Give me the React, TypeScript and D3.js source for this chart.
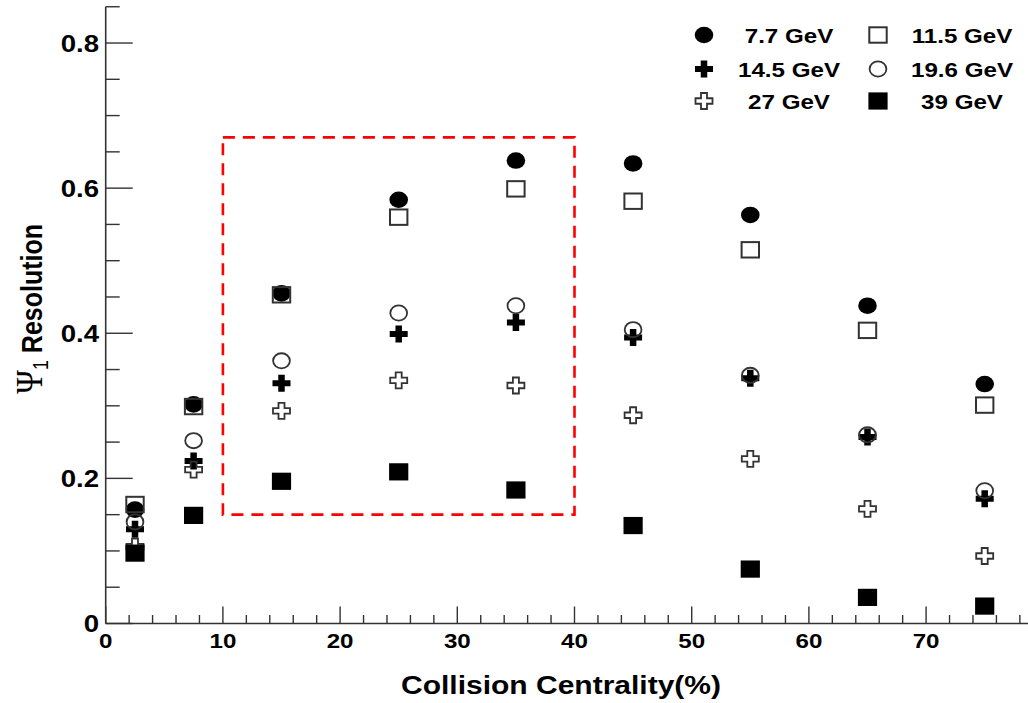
import React from 'react';
import * as d3 from 'd3';

const centrality = [2.5, 7.5, 15, 25, 35, 45, 55, 65, 75];
const res7p7 = [0.157, 0.302, 0.455, 0.584, 0.638, 0.634, 0.563, 0.438, 0.330];
const res11p5 = [0.164, 0.299, 0.453, 0.560, 0.599, 0.582, 0.515, 0.404, 0.301];
const res14p5 = [0.130, 0.224, 0.331, 0.399, 0.415, 0.394, 0.338, 0.257, 0.172];
const res19p6 = [0.140, 0.252, 0.362, 0.428, 0.438, 0.405, 0.342, 0.260, 0.183];
const res27 = [0.106, 0.212, 0.293, 0.335, 0.328, 0.287, 0.227, 0.158, 0.093];
const res39 = [0.097, 0.149, 0.196, 0.209, 0.184, 0.135, 0.075, 0.036, 0.024];
const seriesLabels = ['7.7 GeV', '11.5 GeV', '14.5 GeV', '19.6 GeV', '27 GeV', '39 GeV'];
const seriesMarkers = ['filledCircle', 'openSquare', 'filledCross', 'openCircle', 'openCross', 'filledSquare'];
const xTicks = [0, 10, 20, 30, 40, 50, 60, 70];
const yTicks = [0, 0.2, 0.4, 0.6, 0.8];
const boxX = [10, 40];
const boxY = [0.15, 0.67];

const W = 1028;
const H = 703;
const FONT = '"Liberation Sans", Arial, Helvetica, sans-serif';
const SX = 1.15;
const AX = '#333';

const x = d3.scaleLinear().domain([0, 80]).range([105.7, 105.7 + 80 * 11.72]);
const y = d3.scaleLinear().domain([0, 0.85]).range([623.5, 623.5 - 0.85 * 725.6]);

function plusPath(w: number, h: number, tw: number, th: number) {
  const a = w / 2, b = h / 2, c = tw / 2, d = th / 2;
  return `M${-c},${-b}L${c},${-b}L${c},${-d}L${a},${-d}L${a},${d}L${c},${d}L${c},${b}L${-c},${b}L${-c},${d}L${-a},${d}L${-a},${-d}L${-c},${-d}Z`;
}

function Marker({ type, cx, cy }: { type: string; cx: number; cy: number }) {
  const t = `translate(${cx},${cy})`;
  switch (type) {
    case 'filledCircle':
      return <ellipse transform={t} rx={9.3} ry={8.3} fill="#000" />;
    case 'openSquare':
      return <rect transform={t} x={-8.7} y={-7.7} width={17.4} height={15.4} fill="none" stroke={AX} strokeWidth={2} />;
    case 'filledCross':
      return <path transform={t} d={plusPath(18, 17, 6.5, 6)} fill="#000" />;
    case 'openCircle':
      return <ellipse transform={t} rx={8.4} ry={7.6} fill="none" stroke={AX} strokeWidth={1.8} />;
    case 'openCross':
      return <path transform={t} d={plusPath(17, 16, 6, 5.5)} fill="none" stroke={AX} strokeWidth={1.8} />;
    case 'filledSquare':
      return <rect transform={t} x={-9.6} y={-8.6} width={19.2} height={17.2} fill="#000" />;
    default:
      return null;
  }
}

export default function App() {
  const series = [res7p7, res11p5, res14p5, res19p6, res27, res39];
  const xMinor = d3.range(0, 81, 2);
  const yMinor = d3.range(0, 0.851, 0.05);
  const legendCols = [
    { mx: 704, tx: 789 },
    { mx: 878, tx: 962 },
  ];
  const legendRows = [35, 69, 101];

  return (
    <svg width={W} height={H} style={{ position: 'absolute', left: 0, top: 0, background: '#fff' }}>
      <rect x={0} y={0} width={W} height={H} fill="#fff" />
      {/* axes */}
      <line x1={x(0)} x2={W} y1={y(0)} y2={y(0)} stroke={AX} strokeWidth={1.6} />
      <line x1={x(0)} x2={x(0)} y1={y(0)} y2={y(0.85)} stroke={AX} strokeWidth={1.6} />
      {xMinor.map((v) => {
        const major = v % 10 === 0;
        return (
          <line key={'xt' + v} x1={x(v)} x2={x(v)} y1={y(0)} y2={y(0) - (major ? 17 : 8.5)} stroke={AX} strokeWidth={1.4} />
        );
      })}
      {yMinor.map((v, i) => {
        const major = i % 4 === 0;
        return (
          <line key={'yt' + i} x1={x(0)} x2={x(0) + (major ? 27 : 14)} y1={y(v)} y2={y(v)} stroke={AX} strokeWidth={1.4} />
        );
      })}
      {xTicks.map((v) => (
        <text key={'xl' + v} transform={`translate(${x(v)},648) scale(${SX},1)`} textAnchor="middle"
          fontFamily={FONT} fontWeight="bold" fontSize={21} fill="#000">{v}</text>
      ))}
      {yTicks.map((v) => (
        <text key={'yl' + v} transform={`translate(99,${y(v) + 8.5}) scale(${SX},1)`} textAnchor="end"
          fontFamily={FONT} fontWeight="bold" fontSize={24} fill="#000">{v === 0 ? '0' : v.toFixed(1)}</text>
      ))}
      {/* axis titles */}
      <text transform={`translate(561,694) scale(1.2,1)`} textAnchor="middle" fontFamily={FONT}
        fontWeight="bold" fontSize={25} fill="#000">Collision Centrality(%)</text>
      <text transform="translate(42,224) rotate(-90) scale(1,1.2)" textAnchor="end" fontFamily={FONT} fontSize={25} fill="#000">
        <tspan fontFamily='"Liberation Serif", "DejaVu Serif", serif' fontWeight="normal" fontSize={32} fill="#000">Ψ</tspan>
        <tspan fontSize={18} dy={5} fill="#000">1</tspan>
        <tspan fontWeight="bold" dy={-5} fill="#000"> Resolution</tspan>
      </text>
      {/* red dashed box */}
      <rect x={x(boxX[0])} y={y(boxY[1])} width={x(boxX[1]) - x(boxX[0])} height={y(boxY[0]) - y(boxY[1])}
        fill="none" stroke="#ff0000" strokeWidth={2.6} strokeDasharray="12,8" />
      {/* data */}
      {series.map((vals, si) => (
        <g key={'s' + si}>
          {vals.map((v, i) => (
            <Marker key={i} type={seriesMarkers[si]} cx={x(centrality[i])} cy={y(v)} />
          ))}
        </g>
      ))}
      {/* legend */}
      {seriesLabels.map((lab, i) => {
        const col = legendCols[i % 2];
        const row = legendRows[Math.floor(i / 2)];
        return (
          <g key={'lg' + i}>
            <Marker type={seriesMarkers[i]} cx={col.mx} cy={row} />
            <text transform={`translate(${col.tx},${row + 7.5}) scale(${SX},1)`} textAnchor="middle"
              fontFamily={FONT} fontWeight="bold" fontSize={21} fill="#000">{lab}</text>
          </g>
        );
      })}
    </svg>
  );
}
